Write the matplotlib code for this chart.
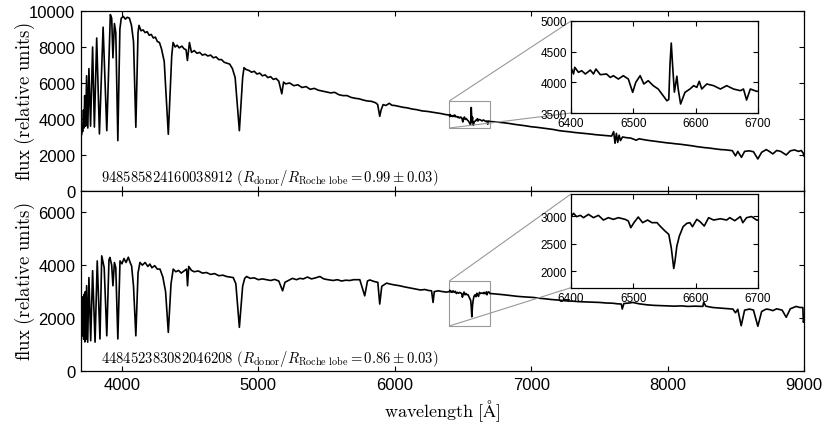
import numpy as np
import matplotlib
matplotlib.use('Agg')
import matplotlib.pyplot as plt
from mpl_toolkits.axes_grid1.inset_locator import mark_inset

# spectrum of the first source, (wavelength [A], flux)
top_spec = [
    (3700, 4200), (3703, 3100), (3708, 3600), (3712, 3300), (3718, 4500),
    (3722, 3500), (3727, 5300), (3734, 3600), (3741, 6400), (3750, 3500),
    (3758, 6800), (3770, 3600), (3785, 8000), (3798, 3550), (3815, 8500),
    (3835, 3170), (3862, 9100), (3889, 3350), (3915, 9800), (3925, 9600),
    (3934, 7400), (3945, 9300), (3955, 8800), (3970, 2800), (3985, 9000),
    (3995, 9600), (4010, 9700), (4025, 9550), (4040, 9650), (4055, 9600),
    (4070, 9200), (4085, 8300), (4102, 3540), (4118, 8800), (4125, 9200),
    (4140, 8900), (4155, 8950), (4170, 8800), (4185, 8850), (4200, 8650),
    (4215, 8700), (4230, 8500), (4245, 8550), (4260, 8300), (4275, 8250),
    (4290, 7900), (4310, 7200), (4340, 3150), (4365, 7500), (4375, 8250),
    (4390, 8000), (4405, 8100), (4420, 7950), (4440, 8050), (4455, 7900),
    (4470, 7850), (4480, 7250), (4495, 8250), (4510, 7700), (4530, 7800),
    (4550, 7650), (4570, 7700), (4590, 7550), (4610, 7600), (4630, 7500),
    (4650, 7550), (4670, 7400), (4690, 7450), (4710, 7300), (4730, 7300),
    (4750, 7150), (4770, 7100), (4790, 7050), (4810, 6800), (4830, 6300),
    (4861, 3350), (4885, 6300), (4895, 6850), (4910, 6750), (4930, 6700),
    (4950, 6600), (4970, 6650), (4990, 6500), (5010, 6550), (5030, 6400),
    (5050, 6450), (5070, 6300), (5090, 6350), (5110, 6200), (5130, 6250),
    (5150, 6100), (5172, 5400), (5185, 6050), (5200, 5950), (5230, 6000),
    (5260, 5850), (5290, 5900), (5320, 5750), (5350, 5800), (5380, 5650),
    (5410, 5700), (5440, 5600), (5470, 5550), (5500, 5500), (5530, 5450),
    (5560, 5480), (5590, 5350), (5620, 5300), (5650, 5300), (5680, 5200),
    (5710, 5150), (5740, 5120), (5770, 5050), (5800, 5000), (5830, 4980),
    (5860, 4900), (5875, 4800), (5890, 4150), (5900, 4500), (5915, 4800),
    (5935, 4750), (5960, 4870), (5980, 4760), (6000, 4750), (6030, 4700),
    (6060, 4650), (6090, 4620), (6130, 4550), (6160, 4520), (6200, 4450),
    (6240, 4420), (6280, 4370), (6310, 4330), (6340, 4300), (6370, 4250),
    (6390, 4230),
    # H-alpha region (inset)
    (6401, 4217), (6404, 4136), (6406, 4245), (6412, 4163), (6417, 4190),
    (6423, 4136), (6431, 4200), (6436, 4136), (6440, 4217), (6447, 4125),
    (6457, 4136), (6463, 4080), (6468, 4108), (6476, 4054), (6484, 4108),
    (6492, 4054), (6499, 3837), (6504, 4000), (6511, 4108), (6517, 3973),
    (6524, 4027), (6532, 3946), (6540, 3891), (6548, 3782), (6554, 3700),
    (6557, 3720), (6559, 4300), (6561, 4640), (6563, 4300), (6566, 3840),
    (6570, 4100), (6572, 3900), (6576, 3647), (6583, 3837), (6591, 3891),
    (6597, 3946), (6602, 3918), (6606, 4017), (6610, 3891), (6618, 3973),
    (6629, 3946), (6640, 3891), (6650, 3946), (6661, 3891), (6672, 3864),
    (6677, 3891), (6682, 3712), (6688, 3891), (6698, 3854),
    (6720, 3850), (6760, 3820), (6800, 3790), (6840, 3750), (6880, 3700),
    (6920, 3660), (6960, 3620), (7000, 3570), (7040, 3540), (7080, 3500),
    (7120, 3460), (7160, 3420), (7200, 3360), (7240, 3320), (7280, 3290),
    (7320, 3250), (7360, 3220), (7400, 3190), (7440, 3160), (7470, 3130),
    (7500, 3110), (7530, 3090), (7560, 3070), (7590, 3050), (7605, 3300),
    (7615, 2650), (7625, 3200), (7635, 2700), (7645, 3100), (7655, 2800),
    (7670, 3000), (7700, 2960), (7730, 2940), (7771, 2820), (7790, 2900),
    (7820, 2860), (7850, 2820), (7880, 2790), (7910, 2760), (7940, 2730),
    (7970, 2700), (8000, 2670), (8030, 2650), (8060, 2620), (8090, 2600),
    (8120, 2570), (8150, 2540), (8180, 2510), (8210, 2470), (8240, 2440),
    (8270, 2410), (8300, 2390), (8330, 2360), (8360, 2330), (8390, 2300),
    (8420, 2290), (8450, 2260), (8475, 2240), (8498, 1950), (8515, 2200),
    (8542, 1870), (8565, 2200), (8600, 2230), (8630, 2180), (8662, 1780),
    (8690, 2150), (8724, 2300), (8750, 2180), (8772, 2060), (8800, 2250),
    (8830, 2200), (8870, 2000), (8900, 2230), (8931, 2280), (8960, 2200),
    (8980, 2250), (8995, 2100), (9000, 1950),
]

# spectrum of the second source
bottom_spec = [
    (3700, 150), (3703, 2000), (3706, 1500), (3709, 2800), (3712, 1330),
    (3716, 2600), (3720, 1200), (3724, 2900), (3728, 1100), (3732, 3000),
    (3736, 1200), (3741, 3220), (3749, 1090), (3758, 3530), (3771, 1145),
    (3785, 3790), (3803, 1090), (3819, 4160), (3839, 1210), (3852, 4350),
    (3870, 3900), (3889, 1330), (3905, 4200), (3912, 4290), (3925, 4000),
    (3934, 3220), (3945, 4100), (3955, 3900), (3970, 1210), (3986, 4160),
    (4000, 4050), (4015, 4250), (4030, 4100), (4047, 4300), (4060, 4100),
    (4071, 3970), (4085, 3200), (4102, 1330), (4118, 3700), (4132, 4100),
    (4150, 4000), (4170, 4100), (4190, 3950), (4205, 4040), (4220, 3900),
    (4240, 3980), (4260, 3850), (4279, 3850), (4300, 3550), (4320, 3000),
    (4340, 1460), (4360, 3300), (4376, 3850), (4395, 3750), (4415, 3800),
    (4435, 3700), (4455, 3780), (4474, 3850), (4481, 3220), (4490, 3950),
    (4510, 3800), (4530, 3750), (4560, 3780), (4590, 3700), (4620, 3720),
    (4650, 3650), (4680, 3680), (4710, 3600), (4740, 3620), (4767, 3570),
    (4790, 3550), (4816, 3530), (4835, 3300), (4861, 1650), (4885, 3200),
    (4900, 3500), (4914, 3570), (4940, 3500), (4970, 3520), (5000, 3450),
    (5030, 3480), (5060, 3450), (5090, 3420), (5120, 3460), (5150, 3400),
    (5178, 3030), (5195, 3350), (5220, 3420), (5250, 3500), (5280, 3450),
    (5304, 3500), (5330, 3480), (5360, 3550), (5390, 3480), (5420, 3520),
    (5451, 3570), (5480, 3480), (5510, 3450), (5548, 3420), (5580, 3450),
    (5610, 3400), (5640, 3430), (5670, 3420), (5700, 3450), (5744, 3450),
    (5780, 2840), (5800, 3400), (5817, 3440), (5850, 3380), (5876, 3350),
    (5890, 2530), (5905, 3200), (5940, 3320), (5970, 3280), (6000, 3250),
    (6037, 3220), (6070, 3180), (6100, 3150), (6130, 3120), (6159, 3090),
    (6190, 3060), (6220, 3080), (6250, 3040), (6270, 3030), (6281, 2590),
    (6290, 3000), (6320, 3030), (6350, 3000), (6380, 2980),
    # H-alpha region (inset)
    (6401, 3000), (6404, 3049), (6409, 2988), (6415, 3012), (6420, 2970),
    (6428, 3030), (6436, 2970), (6444, 3012), (6452, 2927), (6460, 2970),
    (6468, 2939), (6476, 2970), (6487, 2939), (6492, 2909), (6496, 2788),
    (6501, 2879), (6508, 2982), (6515, 2879), (6523, 2927), (6530, 2879),
    (6538, 2880), (6543, 2818), (6551, 2727), (6557, 2667), (6561, 2424),
    (6564, 2152), (6565, 2048), (6567, 2182), (6570, 2455), (6574, 2636),
    (6580, 2806), (6586, 2867), (6591, 2879), (6595, 2806), (6602, 2939),
    (6607, 2900), (6614, 2818), (6621, 2970), (6629, 2927), (6640, 2950),
    (6650, 2927), (6655, 2970), (6663, 2915), (6672, 2990), (6676, 2879),
    (6682, 2970), (6690, 2990), (6698, 2927),
    (6720, 2920), (6760, 2900), (6800, 2880), (6850, 2850), (6900, 2820),
    (6950, 2800), (7014, 2780), (7060, 2750), (7100, 2730), (7150, 2700),
    (7200, 2680), (7258, 2650), (7300, 2640), (7350, 2620), (7400, 2610),
    (7450, 2600), (7502, 2590), (7550, 2570), (7600, 2560), (7630, 2540),
    (7661, 2530), (7668, 2340), (7680, 2550), (7720, 2570), (7746, 2590),
    (7790, 2540), (7850, 2500), (7900, 2480), (7950, 2470), (7991, 2460),
    (8050, 2450), (8100, 2460), (8150, 2440), (8200, 2450), (8259, 2440),
    (8265, 2600), (8280, 2450), (8330, 2400), (8380, 2380), (8430, 2360),
    (8479, 2340), (8498, 2200), (8515, 2330), (8540, 1710), (8565, 2300),
    (8601, 2340), (8630, 2300), (8662, 1690), (8690, 2250), (8724, 2340),
    (8750, 2320), (8772, 2280), (8800, 2350), (8840, 2300), (8870, 2030),
    (8900, 2350), (8943, 2440), (8970, 2400), (8992, 2400), (8996, 1840),
    (9000, 1900),
]

source_ids = ['948585824160038912', '448452383082046208']
radius_ratios = ['0.99', '0.86']
flux_limits = [(0, 10000), (0, 6800)]
flux_ticks = [[0, 2000, 4000, 6000, 8000, 10000], [0, 2000, 4000, 6000]]
inset_limits = [(3500, 5000), (1700, 3400)]
inset_ticks = [[3500, 4000, 4500, 5000], [2000, 2500, 3000]]
zoom_window = (6400, 6700)
wave_ticks = [4000, 5000, 6000, 7000, 8000, 9000]

plt.rcParams['font.family'] = ['Liberation Sans', 'DejaVu Sans']
plt.rcParams['mathtext.fontset'] = 'cm'


def style(ax, size):
    ax.tick_params(direction='in', top=True, right=True, labelsize=size,
                   length=3.5, width=0.8, pad=4)
    for sp in ax.spines.values():
        sp.set_linewidth(0.9)


fig = plt.figure(figsize=(8.3, 4.27), dpi=100)
main_boxes = [[0.0976, 0.5504, 0.871, 0.4215], [0.0976, 0.1288, 0.871, 0.4215]]
inset_boxes = [[0.688, 0.733, 0.225, 0.2155], [0.688, 0.324, 0.225, 0.2194]]

for i, spec in enumerate([top_spec, bottom_spec]):
    wave, flux = np.array(spec, dtype=float).T

    ax = fig.add_axes(main_boxes[i])
    ax.plot(wave, flux, color='black', lw=1.2)
    ax.set_xlim(3700, 9000)
    ax.set_ylim(*flux_limits[i])
    ax.set_xticks(wave_ticks)
    ax.set_yticks(flux_ticks[i])
    style(ax, 12)
    if i == 0:
        ax.tick_params(labelbottom=False)
    else:
        ax.set_xlabel(r'$\mathrm{wavelength\ [\AA]}$', fontsize=13, labelpad=4)
    ax.text(0.028, 0.075,
            r'$\mathrm{%s}\ (R_{\mathrm{donor}}/R_{\mathrm{Roche\ lobe}}'
            r'=%s\pm0.03)$' % (source_ids[i], radius_ratios[i]),
            transform=ax.transAxes, fontsize=10.5, va='center')
    fig.text(0.030, main_boxes[i][1] + main_boxes[i][3] / 2,
             r'$\mathrm{flux\ (relative\ units)}$', rotation=90,
             fontsize=13.5, ha='center', va='center')

    axins = fig.add_axes(inset_boxes[i])
    axins.plot(wave, flux, color='black', lw=1.2)
    axins.set_xlim(*zoom_window)
    axins.set_ylim(*inset_limits[i])
    axins.set_xticks([6400, 6500, 6600, 6700])
    axins.set_yticks(inset_ticks[i])
    style(axins, 8.5)
    axins.tick_params(pad=3)
    mark_inset(ax, axins, loc1=2, loc2=3, fc='none', ec='0.6', lw=0.8)

fig.savefig('out.png', dpi=100)
